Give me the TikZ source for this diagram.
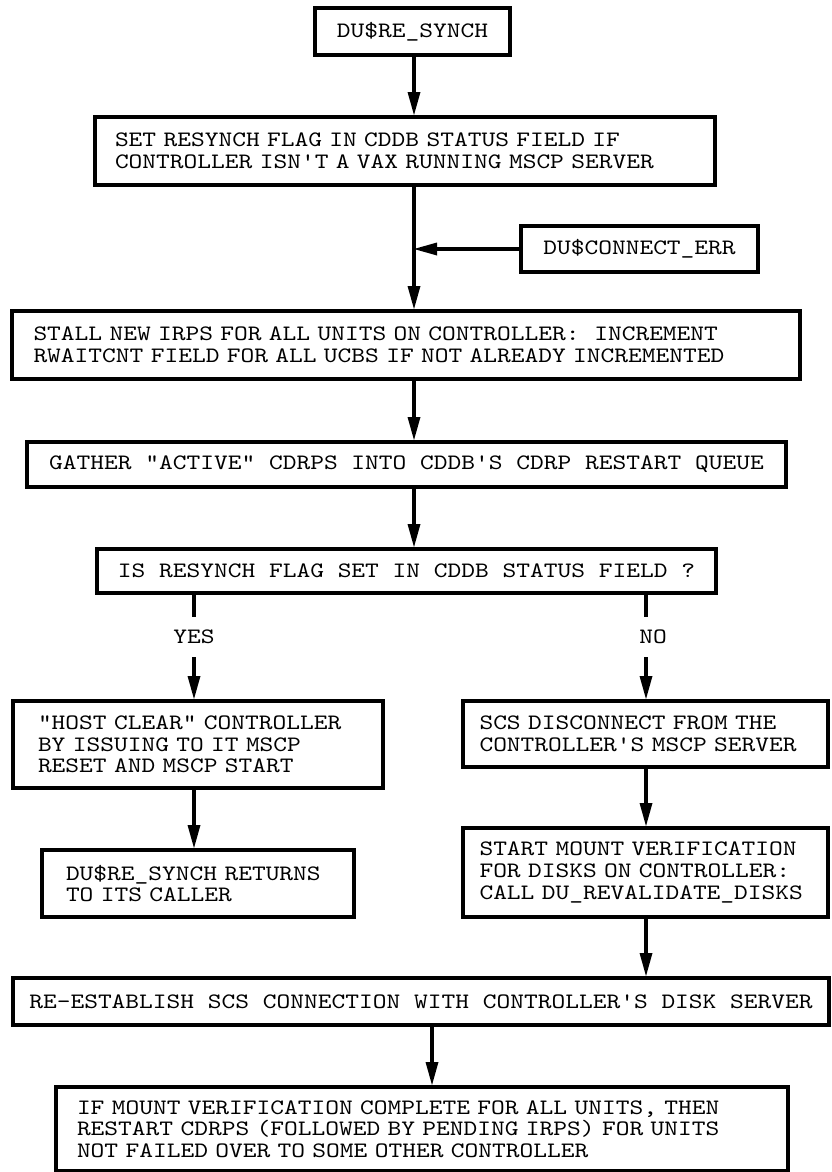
\documentclass[tikz,border=0pt]{standalone}
\usepackage{fontspec}
\newfontfamily\mono{lmmono10-regular.otf}[FakeStretch=1.19]
\usetikzlibrary{arrows.meta}
\begin{document}
\begin{tikzpicture}[x=1pt,y=-1pt,
  txt/.style={font=\mono\fontsize{22}{21.7}\selectfont\frenchspacing},
  box/.style={txt, draw, line width=4pt, inner sep=0pt},
  lbl/.style={txt, inner sep=0pt, minimum height=40pt},
  ln/.style={line width=4pt},
  arr/.style={line width=4pt, -{Triangle[length=23pt,width=13pt,line width=0pt]}}]
\useasboundingbox (0,0) rectangle (832,1172);
\coordinate (tx) at (414,0);
\coordinate (yx) at (194,0);
\coordinate (nx) at (646,0);
\coordinate (rx) at (432,0);

\node[box, minimum width=195pt, minimum height=47pt] (top) at (412.5,31.5) {DU\$RE\_SYNCH};
\node[box, minimum width=620pt, minimum height=68pt, text width=580pt, align=left] (set) at (405,151)
  {SET RESYNCH FLAG IN CDDB STATUS FIELD IF\\CONTROLLER ISN'T A VAX RUNNING MSCP SERVER};
\node[box, minimum width=237pt, minimum height=46pt] (conn) at (639.5,249) {DU\$CONNECT\_ERR};
\node[box, minimum width=788pt, minimum height=68pt, text width=745pt, align=left] (stall) at (406,345)
  {STALL NEW IRPS FOR ALL UNITS ON CONTROLLER:\ \ INCREMENT\\RWAITCNT FIELD FOR ALL UCBS IF NOT ALREADY INCREMENTED};
\node[box, minimum width=759pt, minimum height=45pt] (gather) at (406.5,464.5)
  {GATHER "ACTIVE" CDRPS INTO CDDB'S CDRP RESTART QUEUE};
\node[box, minimum width=619pt, minimum height=44pt] (is) at (406.5,571)
  {IS RESYNCH FLAG SET IN CDDB STATUS FIELD ?};
\node[lbl] (yes) at (194,637) {YES};
\node[lbl] (no) at (653,637) {NO};
\node[box, minimum width=370pt, minimum height=87pt, text width=320pt, align=left] (host) at (198,744.5)
  {"HOST CLEAR" CONTROLLER\\BY ISSUING TO IT MSCP\\RESET AND MSCP START};
\node[box, minimum width=365pt, minimum height=66pt, text width=332pt, align=left] (scs) at (645.5,734)
  {SCS DISCONNECT FROM THE\\CONTROLLER'S MSCP SERVER};
\node[box, minimum width=312pt, minimum height=67pt, text width=264pt, align=left] (ret) at (198,883.5)
  {DU\$RE\_SYNCH RETURNS\\TO ITS CALLER};
\node[box, minimum width=365pt, minimum height=89pt, text width=332pt, align=left] (start) at (645.5,872.5)
  {START MOUNT VERIFICATION\\FOR DISKS ON CONTROLLER:\\CALL DU\_REVALIDATE\_DISKS};
\node[box, minimum width=816pt, minimum height=47pt] (reest) at (421,1001.5)
  {RE-ESTABLISH SCS CONNECTION WITH CONTROLLER'S DISK SERVER};
\node[box, minimum width=732pt, minimum height=84pt, text width=690pt, align=left] (ifm) at (422,1129)
  {IF MOUNT VERIFICATION COMPLETE FOR ALL UNITS, THEN\\RESTART CDRPS (FOLLOWED BY PENDING IRPS) FOR UNITS\\NOT FAILED OVER TO SOME OTHER CONTROLLER};

\draw[arr] (top.south -| tx) -- (set.north -| tx);
\draw[arr] (set.south -| tx) -- (stall.north -| tx);
\draw[arr] (conn.west) -- (conn.west -| tx);
\draw[arr] (stall.south -| tx) -- (gather.north -| tx);
\draw[arr] (gather.south -| tx) -- (is.north -| tx);
\draw[ln] (is.south -| yx) -- (yes.north -| yx);
\draw[arr] (yes.south -| yx) -- (host.north -| yx);
\draw[ln] (is.south -| nx) -- (no.north -| nx);
\draw[arr] (no.south -| nx) -- (scs.north -| nx);
\draw[arr] (host.south -| yx) -- (ret.north -| yx);
\draw[arr] (scs.south -| nx) -- (start.north -| nx);
\draw[arr] (start.south -| nx) -- (reest.north -| nx);
\draw[arr] (reest.south -| rx) -- (ifm.north -| rx);
\end{tikzpicture}
\end{document}
